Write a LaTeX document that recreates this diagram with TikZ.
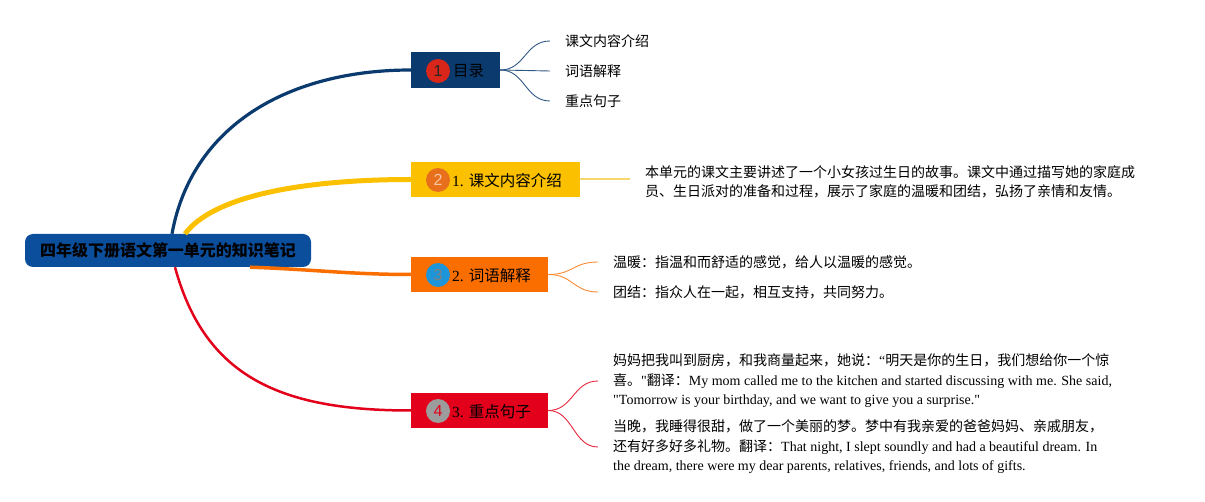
\documentclass[tikz,border=0pt]{standalone}
\usepackage{fontspec}
\setmainfont{Liberation Serif}
\newfontfamily\cjk{Noto Sans CJK SC}
\newfontfamily\numfont{Liberation Sans}
\definecolor{rootblue}{HTML}{0B4F9C}
\definecolor{cA}{HTML}{0A3A6E}
\definecolor{cB}{HTML}{FBC000}
\definecolor{cC}{HTML}{FA6E00}
\definecolor{cD}{HTML}{E2001B}
\definecolor{cBl}{HTML}{F8D66E}
\definecolor{nA}{HTML}{D8261A}
\definecolor{nB}{HTML}{E8701C}
\definecolor{nC}{HTML}{1E95D8}
\definecolor{nD}{HTML}{9C9C9C}
\begin{document}
\begin{tikzpicture}[x=1pt,y=-1pt,
  rootbox/.style={rectangle, fill=rootblue, rounded corners=8pt, minimum width=286pt, minimum height=33pt, inner sep=0pt, font=\fontsize{16}{16}\selectfont},
  topic/.style={rectangle, inner sep=0pt, minimum height=35pt},
  numc/.style={circle, inner sep=0pt, minimum size=24pt, font=\numfont\fontsize{16}{16}\selectfont},
  lbl/.style={anchor=west, inner sep=0pt, font=\fontsize{15.5}{15.5}\selectfont},
  leaf/.style={anchor=west, inner sep=0pt, align=left, font=\fontsize{14}{19.5}\selectfont},
  subline/.style={line width=0.9pt}]
\useasboundingbox (0,0) rectangle (1205,502);

% root
\node[rootbox] (root) at (168,250.5) {\cjk\bfseries 四年级下册语文第一单元的知识笔记};

% topic boxes
\node[topic, fill=cA, minimum width=89pt, minimum height=36pt] (n1) at (455.5,70) {};
\node[topic, fill=cB, minimum width=169pt] (n2) at (495.5,179.5) {};
\node[topic, fill=cC, minimum width=137pt] (n3) at (479.5,274.5) {};
\node[topic, fill=cD, minimum width=137pt] (n4) at (479.5,410.5) {};

\node[numc, fill=nA, text=black!85] (b1) at (438,71) {1};
\node[numc, fill=nB, text=nB!40] (b2) at (438,180) {2};
\node[numc, fill=nC, text=gray] (b3) at (438,275) {3};
\node[numc, fill=nD, text=cD] (b4) at (438,411) {4};

\node[lbl] (t1) at (453,71) {\cjk 目录};
\node[lbl] (t2) at (452,181) {1. {\cjk 课文内容介绍}};
\node[lbl] (t3) at (452,276) {2. {\cjk 词语解释}};
\node[lbl] (t4) at (452,412) {3. {\cjk 重点句子}};

% main branches
\draw[cA, line width=3.2pt] ([xshift=4pt]root.north) .. controls +(20,-110) and +(-120,0) .. (n1.west);
\draw[cB, line width=5pt] ([xshift=17pt]root.north) .. controls +(30,-40) and +(-100,0) .. (n2.west);
\draw[cC, line width=3.5pt] ([xshift=82pt]root.south) .. controls +(60,2) and +(-60,0) .. (n3.west);
\draw[cD, line width=2.5pt] ([xshift=7pt]root.south) .. controls +(30,110) and +(-130,0) .. (n4.west);

% leaves of 1
\node[leaf] (l11) at (565,41) {\cjk 课文内容介绍};
\node[leaf] (l12) at (565,71) {\cjk 词语解释};
\node[leaf] (l13) at (565,101) {\cjk 重点句子};
\foreach \l in {l11,l12,l13}
  \draw[cA!85, subline] (n1.east) .. controls +(25,0) and +(-25,0) .. ([xshift=-15pt]\l.west);

% leaf of 2
\node[leaf] (l21) at (645,182) {\cjk 本单元的课文主要讲述了一个小女孩过生日的故事。课文中通过描写她的家庭成\\\cjk 员、生日派对的准备和过程，展示了家庭的温暖和团结，弘扬了亲情和友情。};
\draw[cBl, line width=2pt] (n2.east) -- ([xshift=-15pt]l21.west |- n2.east);

% leaves of 3
\node[leaf] (l31) at (613,262) {\cjk 温暖：指温和而舒适的感觉，给人以温暖的感觉。};
\node[leaf] (l32) at (613,292) {\cjk 团结：指众人在一起，相互支持，共同努力。};
\foreach \l in {l31,l32}
  \draw[cC!80, subline] (n3.east) .. controls +(25,0) and +(-25,0) .. ([xshift=-15pt]\l.west);

% leaves of 4
\node[leaf] (l41) at (613,381) {{\cjk 妈妈把我叫到厨房，和我商量起来，她说：}“{\cjk 明天是你的生日，我们想给你一个惊}\\{\cjk 喜。}\textquotedbl{\cjk 翻译：}My mom called me to the kitchen and started discussing with me. She said,\\\textquotedbl Tomorrow is your birthday, and we want to give you a surprise.\textquotedbl};
\node[leaf] (l42) at (613,447) {{\cjk 当晚，我睡得很甜，做了一个美丽的梦。梦中有我亲爱的爸爸妈妈、亲戚朋友，}\\{\cjk 还有好多好多礼物。翻译：}That night, I slept soundly and had a beautiful dream. In\\the dream, there were my dear parents, relatives, friends, and lots of gifts.};
\foreach \l in {l41,l42}
  \draw[cD!85, subline] (n4.east) .. controls +(25,0) and +(-25,0) .. ([xshift=-15pt]\l.west);
\end{tikzpicture}
\end{document}
